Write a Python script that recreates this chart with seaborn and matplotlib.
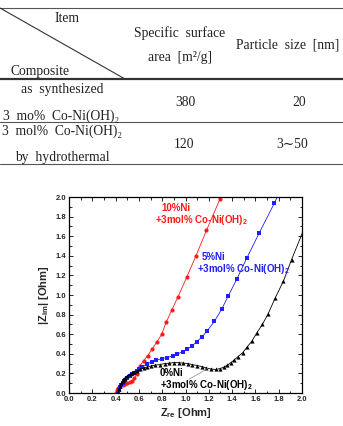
import numpy as np
import pandas as pd
import matplotlib
matplotlib.use('Agg')
import matplotlib.pyplot as plt
import seaborn as sns

sns.set_style('ticks')
plt.rcParams['font.family'] = ['Liberation Sans', 'DejaVu Sans']
plt.rcParams['mathtext.fontset'] = 'custom'
plt.rcParams['mathtext.rm'] = 'Liberation Sans:bold'
plt.rcParams['mathtext.bf'] = 'Liberation Sans:bold'
plt.rcParams['mathtext.default'] = 'bf'

# 표 데이터
item_label = 'Item'
composite_label = 'Composite'
col_headers = ['Specific  surface', 'area  [m²/g]', 'Particle  size  [nm]']
composite_row1 = ['as  synthesized', '3  mo%  Co-Ni(OH)₂']
composite_row2 = ['3  mol%  Co-Ni(OH)₂', 'by  hydrothermal']
surface_area = ['380', '120']
particle_size = ['20', '3∼50']

# 임피던스 데이터 (Nyquist)
red_x = [0.40, 0.41, 0.42, 0.44, 0.46, 0.48, 0.50, 0.52, 0.54, 0.56, 0.58, 0.60, 0.61,
         0.64, 0.675, 0.715, 0.753, 0.796, 0.833, 0.884, 0.935, 1.01, 1.09, 1.18, 1.296]
red_y = [0.00, 0.03, 0.05, 0.07, 0.08, 0.09, 0.10, 0.11, 0.12, 0.15, 0.19, 0.24, 0.28,
         0.33, 0.38, 0.45, 0.52, 0.60, 0.72, 0.85, 0.98, 1.18, 1.40, 1.66, 1.98]

blue_x = [0.42, 0.43, 0.44, 0.45, 0.46, 0.47, 0.48, 0.50, 0.52, 0.54, 0.56, 0.58, 0.60,
          0.624, 0.67, 0.71, 0.75, 0.795, 0.838, 0.89, 0.93, 0.976, 1.016, 1.06, 1.096,
          1.139, 1.187, 1.248, 1.31, 1.368, 1.44, 1.525, 1.631, 1.762, 1.92]
blue_y = [0.00, 0.03, 0.06, 0.08, 0.10, 0.12, 0.135, 0.155, 0.175, 0.19, 0.205, 0.22, 0.24,
          0.265, 0.295, 0.32, 0.335, 0.35, 0.36, 0.378, 0.398, 0.421, 0.449, 0.483, 0.524,
          0.568, 0.636, 0.731, 0.854, 0.993, 1.16, 1.374, 1.629, 1.935, 2.33]

black_x = [0.42, 0.43, 0.44, 0.45, 0.46, 0.47, 0.48, 0.50, 0.52, 0.54, 0.56, 0.58, 0.61,
           0.64, 0.67, 0.70, 0.74, 0.78, 0.82, 0.86, 0.90, 0.94, 0.98, 1.02, 1.06, 1.10,
           1.14, 1.18, 1.22, 1.26, 1.30, 1.33, 1.36, 1.39, 1.42, 1.45, 1.49, 1.53, 1.57,
           1.61, 1.66, 1.71, 1.77, 1.84, 1.91, 2.07]
black_y = [0.00, 0.04, 0.07, 0.10, 0.12, 0.14, 0.155, 0.175, 0.19, 0.20, 0.215, 0.225, 0.24,
           0.255, 0.265, 0.275, 0.285, 0.29, 0.30, 0.305, 0.31, 0.31, 0.305, 0.30, 0.29, 0.28,
           0.27, 0.255, 0.245, 0.24, 0.25, 0.265, 0.285, 0.31, 0.34, 0.37, 0.41, 0.47, 0.53,
           0.61, 0.70, 0.81, 0.97, 1.14, 1.36, 1.83]

W, H = 343, 426
fig = plt.figure(figsize=(W / 100, H / 100), dpi=100)


def fx(px):
    return px / W


def fy(py):
    return 1 - py / H


# ---- 표 ----
serif = ['Liberation Serif', 'DejaVu Serif']
tkw = dict(family=serif, fontsize=9.8, color='#222222', va='center')
fig.add_artist(plt.Line2D([0, 1], [fy(8), fy(8)], color='#555555', lw=0.8))
fig.add_artist(plt.Line2D([0, fx(125)], [fy(8), fy(79)], color='#333333', lw=0.8))
fig.add_artist(plt.Line2D([0, 1], [fy(79), fy(79)], color='#333333', lw=1.6))
fig.add_artist(plt.Line2D([0, 1], [fy(122), fy(122)], color='#555555', lw=0.8))
fig.add_artist(plt.Line2D([0, 1], [fy(164), fy(164)], color='#555555', lw=0.8))

fig.text(fx(67), fy(18), item_label, ha='center', **tkw)
fig.text(fx(40), fy(72), composite_label, ha='center', **tkw)
fig.text(fx(180), fy(33), col_headers[0], ha='center', **tkw)
fig.text(fx(180), fy(57), col_headers[1], ha='center', **tkw)
fig.text(fx(288), fy(45), col_headers[2], ha='center', **tkw)

fig.text(fx(62), fy(89), composite_row1[0], ha='center', **tkw)
fig.text(fx(3), fy(116), composite_row1[1], ha='left', **tkw)
fig.text(fx(185), fy(102), surface_area[0], ha='center', **tkw)
fig.text(fx(299), fy(102), particle_size[0], ha='center', **tkw)

fig.text(fx(2), fy(131), composite_row2[0], ha='left', **tkw)
fig.text(fx(62), fy(157), composite_row2[1], ha='center', **tkw)
fig.text(fx(184), fy(144), surface_area[1], ha='center', **tkw)
fig.text(fx(292), fy(144), particle_size[1], ha='center', **tkw)

# ---- 그래프 ----
ax = fig.add_axes([fx(69), fy(393), fx(302) - fx(69), fy(197) - fy(393)])

sns.lineplot(x=red_x, y=red_y, sort=False, color='#ff1a1a', lw=0.6, marker='o',
             markersize=3, markeredgewidth=0, ax=ax)
sns.lineplot(x=blue_x, y=blue_y, sort=False, color='#2020ff', lw=0.6, marker='s',
             markersize=2.8, markeredgewidth=0, ax=ax)
sns.lineplot(x=black_x, y=black_y, sort=False, color='black', lw=0.6, marker='^',
             markersize=3, markeredgewidth=0, ax=ax)

ax.set_xlim(0, 2.0)
ax.set_ylim(0, 2.0)
ax.set_xticks(np.arange(0, 2.01, 0.2))
ax.set_yticks(np.arange(0, 2.01, 0.2))
ax.set_xticks(np.arange(0, 2.01, 0.1), minor=True)
ax.set_yticks(np.arange(0, 2.01, 0.1), minor=True)
ax.set_xticklabels([f'{v:.1f}' for v in np.arange(0, 2.01, 0.2)])
ax.set_yticklabels([f'{v:.1f}' for v in np.arange(0, 2.01, 0.2)])
ax.tick_params(which='both', direction='in', top=True, right=True, labelsize=5.5,
               width=0.7, pad=2)
ax.tick_params(which='major', length=3)
ax.tick_params(which='minor', length=1.8)
for lab in ax.get_xticklabels() + ax.get_yticklabels():
    lab.set_fontweight('bold')
for s in ax.spines.values():
    s.set_linewidth(0.9)
    s.set_color('black')

ax.set_xlabel(r'Z$_{re}$ [Ohm]', fontsize=8, fontweight='bold', labelpad=2)
ax.set_ylabel(r'|Z$_{im}$| [Ohm]', fontsize=8, fontweight='bold', labelpad=3)

akw = dict(fontsize=7, fontweight='bold', va='center', ha='left')
ax.text(0.79, 1.885, '10%Ni', color='#ff1a1a', **akw)
ax.text(0.74, 1.77, '+3mol% Co-Ni(OH)$_2$', color='#ff1a1a', **akw)
ax.text(1.14, 1.385, '5%Ni', color='#2020ff', **akw)
ax.text(1.10, 1.27, '+3mol% Co-Ni(OH)$_2$', color='#2020ff', **akw)
ax.text(0.78, 0.205, '0%Ni', color='black', **akw)
ax.text(0.78, 0.085, '+3mol% Co-Ni(OH)$_2$', color='black', **akw)
ax.plot([1.03, 1.19], [0.14, 0.25], color='#888888', lw=0.5)

fig.savefig('out.png', dpi=100)
